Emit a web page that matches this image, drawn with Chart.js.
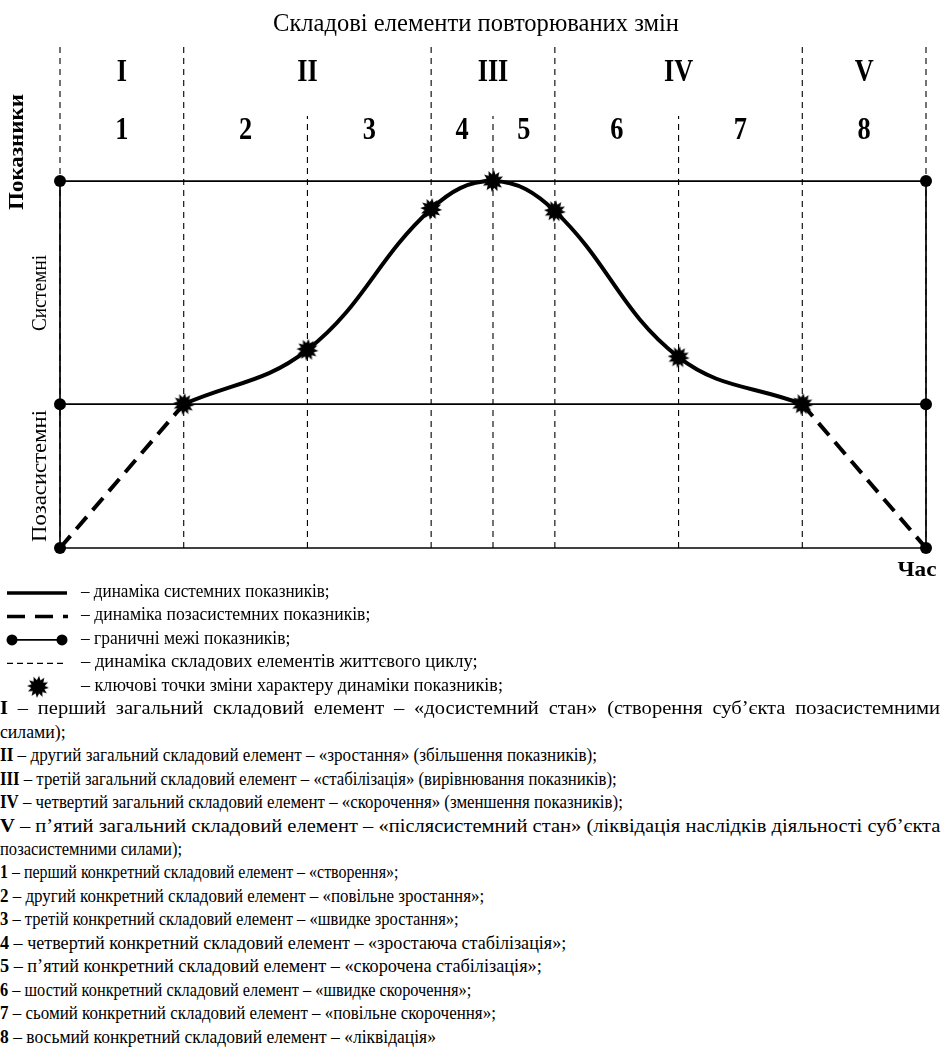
<!DOCTYPE html>
<html lang="uk">
<head>
<meta charset="utf-8">
<title>Складові елементи повторюваних змін</title>
<script src="https://cdn.jsdelivr.net/npm/chart.js@4.4.0/dist/chart.umd.min.js"></script>
<style>
body { margin: 0; background: #fff; color: #000; font-family: 'Liberation Serif', 'Times New Roman', serif; }
#wrap { position: relative; width: 944px; height: 1048px; overflow: hidden; }
#chart { position: absolute; left: 0; top: 0; }
.row { position: absolute; left: 0; white-space: nowrap; font-size: 18px; line-height: 24px; }
.row .t { display: inline-block; transform-origin: 0 50%; }
.row.just { white-space: normal; text-align: justify; text-align-last: justify; transform-origin: 0 50%; }
</style>
</head>
<body>
<div id="wrap">
  <canvas id="chart" width="944" height="700"></canvas>

  <div class="row" style="left:81px" data-w="249"><span class="t">– динаміка системних показників;</span></div>
  <div class="row" style="left:81px" data-w="289"><span class="t">– динаміка позасистемних показників;</span></div>
  <div class="row" style="left:81px" data-w="209"><span class="t">– граничні межі показників;</span></div>
  <div class="row" style="left:81px" data-w="397"><span class="t">– динаміка складових елементів життєвого циклу;</span></div>
  <div class="row" style="left:81px" data-w="422"><span class="t">– ключові точки зміни характеру динаміки показників;</span></div>
  <div class="row just" data-s="10"><b>I</b> – перший загальний складовий елемент – «досистемний стан» (створення суб’єкта позасистемними</div>
  <div class="row" data-w="66"><span class="t">силами);</span></div>
  <div class="row" data-w="597"><span class="t"><b>II</b> – другий загальний складовий елемент – «зростання» (збільшення показників);</span></div>
  <div class="row" data-w="617"><span class="t"><b>III</b> – третій загальний складовий елемент – «стабілізація» (вирівнювання показників);</span></div>
  <div class="row" data-w="623"><span class="t"><b>IV</b> – четвертий загальний складовий елемент – «скорочення» (зменшення показників);</span></div>
  <div class="row" data-w="940"><span class="t"><b>V</b> – п’ятий загальний складовий елемент – «післясистемний стан» (ліквідація наслідків діяльності суб’єкта</span></div>
  <div class="row" data-w="182"><span class="t">позасистемними силами);</span></div>
  <div class="row" data-w="398"><span class="t"><b>1</b> – перший конкретний складовий елемент – «створення»;</span></div>
  <div class="row" data-w="484"><span class="t"><b>2</b> – другий конкретний складовий елемент – «повільне зростання»;</span></div>
  <div class="row" data-w="459"><span class="t"><b>3</b> – третій конкретний складовий елемент – «швидке зростання»;</span></div>
  <div class="row" data-w="566"><span class="t"><b>4</b> – четвертий конкретний складовий елемент – «зростаюча стабілізація»;</span></div>
  <div class="row" data-w="542"><span class="t"><b>5</b> – п’ятий конкретний складовий елемент – «скорочена стабілізація»;</span></div>
  <div class="row" data-w="471"><span class="t"><b>6</b> – шостий конкретний складовий елемент – «швидке скорочення»;</span></div>
  <div class="row" data-w="496"><span class="t"><b>7</b> – сьомий конкретний складовий елемент – «повільне скорочення»;</span></div>
  <div class="row" data-w="436"><span class="t"><b>8</b> – восьмий конкретний складовий елемент – «ліквідація»</span></div>
</div>

<script>
// дані схеми
const titleText = 'Складові елементи повторюваних змін';
const romanLabels = ['I', 'II', 'III', 'IV', 'V'];
const arabicLabels = ['1', '2', '3', '4', '5', '6', '7', '8'];
const generalBounds = [0, 1, 3, 4, 6, 7];          // межі загальних елементів
const elemBounds = [0, 1, 2, 3, 3.5, 4, 5, 6, 7];   // межі конкретних елементів
const subBounds = [2, 3.5, 5];                      // внутрішні межі
const levels = [0, 39.2, 100];                      // низ, межа системності, максимум
const sysX = [1, 2, 3, 3.5, 4, 5, 6];
const sysY = [39.2, 54, 92.4, 100, 91.8, 52, 39.2];
const preX = [0, 1];
const preY = [0, 39.2];
const postX = [6, 7];
const postY = [39.2, 0];
const X_MAX = 7;
const Y_TOP = 137.9;
const Y_SUB = 117.7;

// розміщення тексту
const ROMAN_Y = 73, ARABIC_Y = 131;
const KEY_Y0 = 593, ROW_STEP = 23.45;

function pts(xs, ys) {
    return xs.map(function(v, i) { return { x: v, y: ys[i] }; });
}

function makeStar(r) {
    var c = document.createElement('canvas');
    var s = Math.ceil(r * 2 + 2);
    c.width = c.height = s;
    var g = c.getContext('2d');
    g.translate(s / 2, s / 2);
    g.beginPath();
    var n = 12;
    for (var i = 0; i < n * 2; i++) {
        var rad = i % 2 ? r * 0.62 : r;
        var a = i * Math.PI / n + 0.1;
        g.lineTo(rad * Math.cos(a), rad * Math.sin(a));
    }
    g.closePath();
    g.fillStyle = '#000';
    g.fill();
    return c;
}
const star = makeStar(11);

// текст з підгонкою ширини (width) або стисненням (sx)
function fitText(ctx, text, cx, cy, font, width, angle, sx) {
    ctx.save();
    ctx.font = font;
    ctx.translate(cx, cy);
    if (angle) ctx.rotate(angle);
    if (width) {
        var m = ctx.measureText(text).width;
        ctx.scale(width / m, 1);
    } else if (sx) {
        ctx.scale(sx, 1);
    }
    ctx.fillText(text, 0, 0);
    ctx.restore();
}

const labelsPlugin = {
    id: 'labels',
    afterDraw: function(chart) {
        var ctx = chart.ctx, x = chart.scales.x;
        ctx.save();
        ctx.fillStyle = '#000';
        ctx.strokeStyle = '#000';
        ctx.textAlign = 'center';
        ctx.textBaseline = 'middle';
        fitText(ctx, titleText, 476, 24, '25px "Liberation Serif"', 406);
        romanLabels.forEach(function(t, i) {
            var cx = x.getPixelForValue((generalBounds[i] + generalBounds[i + 1]) / 2);
            fitText(ctx, t, cx, ROMAN_Y, 'bold 32px "Liberation Serif"', 0, 0, 0.82);
        });
        arabicLabels.forEach(function(t, i) {
            var cx = x.getPixelForValue((elemBounds[i] + elemBounds[i + 1]) / 2);
            fitText(ctx, t, cx, ARABIC_Y, 'bold 31px "Liberation Serif"', 0, 0, 0.85);
        });
        fitText(ctx, 'Показники', 18, 152, 'bold 21px "Liberation Serif"', 116, -Math.PI / 2);
        fitText(ctx, 'Системні', 40, 293, '22px "Liberation Serif"', 76, -Math.PI / 2);
        fitText(ctx, 'Позасистемні', 40, 476, '22px "Liberation Serif"', 132, -Math.PI / 2);
        fitText(ctx, 'Час', 917, 571, 'bold 21px "Liberation Serif"', 39);

        // умовні позначення
        var y = KEY_Y0;
        ctx.lineWidth = 3.5;
        ctx.beginPath(); ctx.moveTo(7, y); ctx.lineTo(67, y); ctx.stroke();
        y += ROW_STEP;
        ctx.beginPath();
        ctx.moveTo(7, y); ctx.lineTo(25, y);
        ctx.moveTo(35, y); ctx.lineTo(53, y);
        ctx.moveTo(63, y); ctx.lineTo(68, y);
        ctx.stroke();
        y += ROW_STEP;
        ctx.lineWidth = 1.6;
        ctx.beginPath(); ctx.moveTo(12, y); ctx.lineTo(62, y); ctx.stroke();
        [12, 62].forEach(function(px) {
            ctx.beginPath(); ctx.arc(px, y, 5.5, 0, Math.PI * 2); ctx.fill();
        });
        y += ROW_STEP;
        ctx.lineWidth = 1.1;
        ctx.setLineDash([6, 4]);
        ctx.beginPath(); ctx.moveTo(7, y); ctx.lineTo(66, y); ctx.stroke();
        ctx.setLineDash([]);
        y += ROW_STEP;
        ctx.drawImage(star, 38 - star.width / 2, y - star.height / 2);
        ctx.restore();
    }
};

var datasets = [{
    label: 'Системні показники',
    data: pts(sysX, sysY),
    showLine: true,
    borderColor: '#000',
    borderWidth: 4,
    tension: 0.4,
    pointStyle: star,
    pointRadius: 11,
    clip: false,
    order: 1
}, {
    label: 'Позасистемні (створення)',
    data: pts(preX, preY),
    showLine: true,
    borderColor: '#000',
    borderWidth: 4,
    borderDash: [16, 9],
    pointRadius: 0,
    clip: false,
    order: 2
}, {
    label: 'Позасистемні (ліквідація)',
    data: pts(postX, postY),
    showLine: true,
    borderColor: '#000',
    borderWidth: 4,
    borderDash: [16, 9],
    pointRadius: 0,
    clip: false,
    order: 2
}];

levels.forEach(function(l) {
    datasets.push({
        label: 'Межа ' + l,
        data: [{ x: 0, y: l }, { x: X_MAX, y: l }],
        showLine: true,
        borderColor: '#000',
        borderWidth: 1.7,
        pointRadius: 6,
        pointBackgroundColor: '#000',
        pointBorderWidth: 0,
        clip: false,
        order: 3
    });
});

[0, X_MAX].forEach(function(b) {
    datasets.push({
        label: 'Вісь ' + b,
        data: [{ x: b, y: levels[0] }, { x: b, y: levels[2] }],
        showLine: true,
        borderColor: '#000',
        borderWidth: 1.7,
        pointRadius: 0,
        clip: false,
        order: 4
    });
});

generalBounds.forEach(function(b) {
    datasets.push({
        label: 'Межа елемента ' + b,
        data: [{ x: b, y: 0 }, { x: b, y: Y_TOP }],
        showLine: true,
        borderColor: '#000',
        borderWidth: 1.1,
        borderDash: [6, 5],
        pointRadius: 0,
        clip: false,
        order: 5
    });
});

subBounds.forEach(function(b) {
    datasets.push({
        label: 'Внутрішня межа ' + b,
        data: [{ x: b, y: 0 }, { x: b, y: Y_SUB }],
        showLine: true,
        borderColor: '#000',
        borderWidth: 1.1,
        borderDash: [6, 5],
        pointRadius: 0,
        clip: false,
        order: 5
    });
});

new Chart(document.getElementById('chart').getContext('2d'), {
    type: 'scatter',
    data: { datasets: datasets },
    options: {
        responsive: false,
        animation: false,
        events: [],
        layout: { padding: { left: 60, right: 18, top: 42, bottom: 152 } },
        scales: {
            x: { type: 'linear', min: 0, max: X_MAX, display: false },
            y: { type: 'linear', min: 0, max: Y_TOP, display: false }
        },
        plugins: { legend: { display: false }, tooltip: { enabled: false }, title: { display: false } }
    },
    plugins: [labelsPlugin]
});

// рядки пояснень: підгонка ширини під оригінал
var rows = document.querySelectorAll('.row');
var scales = [];
rows.forEach(function(row, i) {
    row.style.top = (KEY_Y0 - 14 + i * ROW_STEP) + 'px';
    var w = row.getAttribute('data-w');
    if (w) {
        var span = row.querySelector('.t');
        scales[i] = w / span.offsetWidth;
        span.style.transform = 'scaleX(' + scales[i] + ')';
    }
});
rows.forEach(function(row) {
    var k = row.getAttribute('data-s');
    if (k) {
        var s = scales[+k];
        row.style.width = (940 / s) + 'px';
        row.style.transform = 'scaleX(' + s + ')';
    }
});
</script>
</body>
</html>
